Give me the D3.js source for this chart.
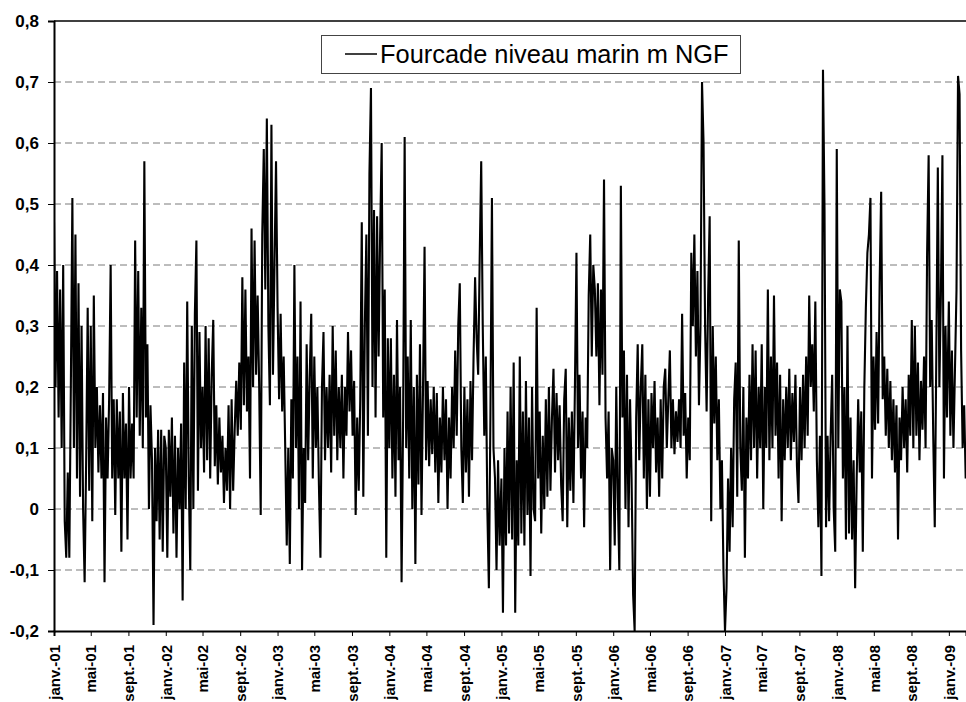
<!DOCTYPE html>
<html><head><meta charset="utf-8">
<script src="https://cdn.jsdelivr.net/npm/d3@7"></script>
<style>body{margin:0;background:#fff}svg{display:block}</style>
</head><body><svg id="c" width="966" height="702"></svg>
<script>
const seriesName = "Fourcade niveau marin m NGF";
const stepDays = 5;
const years = [2001,2002,2003,2004,2005,2006,2007,2008,2009];
const lvl2001 = [0.47,0.20,0.39,0.15,0.36,0.10,0.40,-0.02,-0.08,0.06,-0.08,0.20,0.51,0.10,0.45,0.05,0.37,0.02,0.30,0.00,-0.12,0.08,0.33,0.03,0.30,-0.02,0.35,0.10,0.20,0.06,0.17,0.05,0.19,-0.12,0.15,0.05,0.18,0.40,0.05,0.18,-0.01,0.18,0.05,0.16,-0.07,0.19,0.05,0.14,-0.05,0.20,0.05,0.14,0.05,0.44,0.15,0.39,0.12,0.33,0.10,0.57,0.15,0.27,0.00,0.17,0.08,-0.19,0.10,-0.02,0.13,-0.05,0.13,-0.07,0.12];
const lvl2002 = [0.10,-0.08,0.13,0.02,0.15,-0.04,0.12,-0.08,0.10,0.00,0.14,-0.15,0.24,0.00,0.34,0.05,-0.10,0.30,0.00,0.32,0.44,0.03,0.29,0.10,0.20,0.06,0.30,0.08,0.28,0.05,0.22,0.31,0.07,0.17,0.04,0.15,0.06,0.12,0.01,0.10,0.03,0.17,0.00,0.18,0.03,0.13,0.21,0.12,0.24,0.13,0.38,0.17,0.36,0.16,0.25,0.05,0.46,0.20,0.44,0.22,0.35,0.20,-0.01,0.45,0.59,0.36,0.64,0.30,0.17,0.63,0.22,0.40,0.57];
const lvl2003 = [0.33,0.18,0.32,0.16,0.25,0.10,-0.06,0.10,-0.09,0.18,0.05,0.40,0.10,0.25,0.00,0.34,-0.10,0.10,0.01,0.27,0.08,0.22,0.32,0.05,0.25,0.10,0.20,0.04,-0.08,0.20,0.29,0.08,0.20,0.10,0.22,0.06,0.30,0.12,0.26,0.08,0.20,0.10,0.22,0.05,0.20,0.12,0.29,0.16,0.26,0.12,0.21,-0.01,0.15,0.03,0.18,0.47,0.02,0.30,0.45,0.12,0.55,0.69,0.20,0.49,0.15,0.48,0.25,0.45,0.60,0.15,0.36,-0.08,0.28];
const lvl2004 = [0.10,0.28,0.05,0.22,0.02,0.31,0.08,0.20,-0.12,0.15,0.61,0.10,0.25,0.05,0.31,0.00,0.20,-0.09,0.22,0.04,0.27,-0.01,0.20,0.43,0.08,0.21,0.07,0.18,0.09,0.20,0.06,0.19,0.01,0.15,0.06,0.20,0.08,0.18,0.00,0.15,0.05,0.20,0.10,0.26,0.12,0.30,0.37,0.10,0.01,0.20,0.06,0.18,0.02,0.21,0.08,0.25,0.38,0.28,0.22,0.41,0.57,0.30,0.12,0.25,0.00,-0.13,0.15,0.51,0.10,0.05,-0.10,0.08,-0.06];
const lvl2005 = [0.05,-0.17,0.10,-0.06,0.16,-0.04,0.20,-0.05,0.24,-0.17,0.08,-0.06,0.25,-0.04,0.16,-0.06,0.21,-0.01,0.15,-0.11,0.20,0.00,-0.02,0.33,0.05,0.16,-0.04,0.12,0.00,0.18,0.02,0.20,0.03,0.15,0.23,0.06,0.19,0.08,0.17,0.04,-0.02,0.18,0.23,-0.03,0.15,0.03,0.16,0.01,0.20,0.42,0.10,0.22,0.05,0.16,-0.03,0.15,0.10,0.35,0.45,0.25,0.40,0.36,0.25,0.37,0.17,0.36,0.22,0.54,0.15,0.05,0.16,-0.10,0.10];
const lvl2006 = [0.08,-0.06,0.20,0.02,-0.10,0.53,0.15,0.26,0.00,0.22,-0.03,0.18,0.05,-0.14,-0.20,0.15,0.27,0.08,0.20,0.27,0.05,0.22,0.00,0.18,0.02,0.19,0.10,0.21,0.06,0.15,0.02,0.18,0.05,0.20,0.23,0.10,0.18,0.26,0.10,0.18,0.09,0.16,0.11,0.18,0.10,0.32,0.12,0.19,0.05,0.15,0.08,0.42,0.30,0.45,0.25,0.39,0.17,0.30,0.70,0.60,0.30,0.16,0.35,0.48,-0.02,0.30,0.14,0.25,0.08,0.18,0.00,0.08,-0.10];
const lvl2007 = [-0.20,-0.13,0.05,-0.07,0.10,-0.03,0.18,0.24,0.02,0.44,0.10,0.03,0.20,-0.08,0.15,0.05,0.22,0.08,0.27,0.10,0.26,0.05,0.20,0.10,0.27,0.00,0.20,0.10,0.36,0.08,0.25,0.10,0.35,0.12,0.24,0.05,0.22,-0.02,0.18,0.08,0.20,0.10,0.23,0.08,0.19,0.11,0.22,0.07,0.01,0.20,0.08,0.22,0.10,0.25,0.12,0.35,0.20,0.27,0.16,0.34,0.08,-0.03,0.12,-0.11,0.72,0.49,-0.03,0.12,-0.02,0.12,0.22,0.00,-0.07];
const lvl2008 = [0.59,0.10,0.36,0.34,0.05,0.20,-0.05,0.30,-0.04,0.15,-0.05,0.08,-0.13,0.05,0.18,0.06,0.16,-0.07,0.20,0.33,0.42,0.45,0.51,0.05,0.25,0.13,0.29,0.14,0.37,0.52,0.18,0.25,0.12,0.23,0.10,0.21,0.08,0.18,0.06,0.17,-0.05,0.15,0.08,0.20,0.10,0.18,0.06,0.22,0.12,0.31,0.10,0.30,0.12,0.24,0.08,0.21,0.13,0.25,0.10,0.42,0.58,0.20,0.31,0.12,-0.03,0.25,0.56,0.20,0.35,0.58,0.05,0.30,0.15];
const lvl2009 = [0.34,0.12,0.26,0.10,0.23,0.36,0.71,0.68,0.26,0.10,0.17,0.05];
const yearly = [lvl2001,lvl2002,lvl2003,lvl2004,lvl2005,lvl2006,lvl2007,lvl2008,lvl2009];
const xTickLabels = ["janv.-01","mai-01","sept.-01","janv.-02","mai-02","sept.-02","janv.-03","mai-03","sept.-03","janv.-04","mai-04","sept.-04","janv.-05","mai-05","sept.-05","janv.-06","mai-06","sept.-06","janv.-07","mai-07","sept.-07","janv.-08","mai-08","sept.-08","janv.-09"];
const yTicks = [-0.2,-0.1,0,0.1,0.2,0.3,0.4,0.5,0.6,0.7,0.8];

const data = [];
years.forEach((yr,k) => yearly[k].forEach((v,i) => data.push({date: d3.timeDay.offset(new Date(yr,0,1), i*stepDays), value: v})));

const svg = d3.select("#c");
const L = 54, R = 966, T = 21, B = 631;
const x = d3.scaleTime().domain([new Date(2001,0,1), new Date(2009,1,26)]).range([L,R]);
const y = d3.scaleLinear().domain([-0.2,0.8]).range([B,T]);
const loc = d3.formatLocale({decimal:",",thousands:" ",grouping:[3],currency:["","€"],minus:"-"});
const fmt = loc.format(".1~f");
const font = "Arial, 'Liberation Sans', sans-serif";

svg.append("defs").append("clipPath").attr("id","pc").append("rect")
  .attr("x",L).attr("y",T-1).attr("width",R-L).attr("height",B-T+2);

// gridlines
svg.append("g").selectAll("line").data(yTicks.filter(t => t > -0.2 && t < 0.8)).join("line")
  .attr("x1",L).attr("x2",R).attr("y1",d=>y(d)).attr("y2",d=>y(d))
  .attr("stroke","#7a7a7a").attr("stroke-width",1).attr("stroke-dasharray","7,4");

// series
svg.append("path").datum(data).attr("clip-path","url(#pc)")
  .attr("fill","none").attr("stroke","#000").attr("stroke-width",2.1).attr("stroke-linejoin","miter").attr("stroke-miterlimit",2)
  .attr("d", d3.line().x(d=>x(d.date)).y(d=>y(d.value)));

// top border
svg.append("line").attr("x1",L).attr("x2",R).attr("y1",T).attr("y2",T).attr("stroke","#000").attr("stroke-width",1.5);

// y axis
const gy = svg.append("g").attr("transform",`translate(${L},0)`)
  .call(d3.axisLeft(y).tickValues(yTicks).tickSize(6).tickPadding(9).tickFormat(fmt));
gy.select(".domain").attr("stroke-width",2);
gy.selectAll("text").attr("font-family",font).attr("font-size",17).attr("font-weight","bold").attr("fill","#000");

// x axis
const tickDates = d3.timeMonth.every(4).range(new Date(2001,0,1), new Date(2009,0,2));
const gx = svg.append("g").attr("transform",`translate(0,${B})`)
  .call(d3.axisBottom(x).tickValues(tickDates).tickSize(5).tickFormat((d,i)=>xTickLabels[i]));
gx.select(".domain").attr("stroke-width",2);
gx.selectAll("text").attr("font-family",font).attr("font-size",15).attr("font-weight","bold").attr("fill","#000")
  .attr("transform","rotate(-90)").attr("text-anchor","end").attr("x",-14).attr("y",0).attr("dy","0.35em");

// legend
const lg = svg.append("g");
lg.append("rect").attr("x",321.5).attr("y",35.5).attr("width",419).attr("height",38)
  .attr("fill","#fff").attr("stroke","#444").attr("stroke-width",1);
lg.append("line").attr("x1",345).attr("x2",377).attr("y1",54).attr("y2",54).attr("stroke","#000").attr("stroke-width",1.5);
lg.append("text").attr("x",380).attr("y",63).attr("font-family",font).attr("font-size",25.4).attr("fill","#000").text(seriesName);
</script></body></html>
